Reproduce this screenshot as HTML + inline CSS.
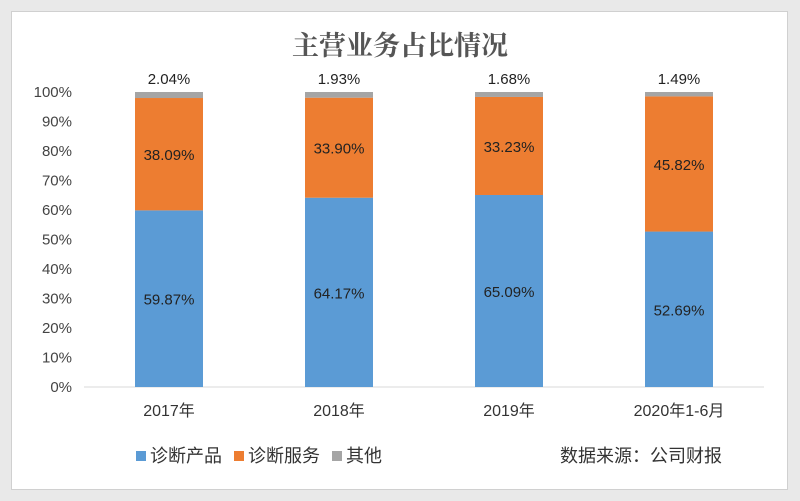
<!DOCTYPE html>
<html><head><meta charset="utf-8"><style>
body{margin:0;background:#e9e9e9;}
#c{position:absolute;left:11px;top:11px;width:775px;height:477px;background:#fff;border:1px solid #d0d0d0;}
svg{position:absolute;left:0;top:0}
text{font-family:"Liberation Sans","Noto Sans CJK SC",sans-serif;}
</style></head><body>
<div id="c"></div>
<svg id="s" width="800" height="501">
<text x="400" y="55" text-anchor="middle" font-size="27" font-weight="bold" fill="#555" style="font-family:'Noto Serif CJK SC',serif">主营业务占比情况</text>
<g id="leg">
<rect x="136" y="451" width="10" height="10" fill="#5b9bd5"/>
<text x="150" y="462" font-size="18" fill="#333">诊断产品</text>
<rect x="234" y="451" width="10" height="10" fill="#ed7d31"/>
<text x="248" y="462" font-size="18" fill="#333">诊断服务</text>
<rect x="332" y="451" width="10" height="10" fill="#a5a5a5"/>
<text x="346" y="462" font-size="18" fill="#333">其他</text>
</g>
<text x="560" y="462" font-size="18" fill="#333">数据来源：公司财报</text>
</svg>
<script>
const categories=["2017年","2018年","2019年","2020年1-6月"];
const product=[59.87,64.17,65.09,52.69];
const service=[38.09,33.90,33.23,45.82];
const other=[2.04,1.93,1.68,1.49];
const ticks=[0,10,20,30,40,50,60,70,80,90,100];
const s=document.getElementById('s');
const NS='http://www.w3.org/2000/svg';
const y0=387,y1=92,x0=84,band=170,bw=68;
const y=v=>y0-(y0-y1)*v/100;
const xc=i=>x0+band*(i+0.5);
function mk(t,a,txt){const e=document.createElementNS(NS,t);for(const k in a)e.setAttribute(k,a[k]);if(txt!=null)e.textContent=txt;s.appendChild(e);return e;}
ticks.forEach(t=>{const e=mk('text',{x:72,y:y(t)+5,'text-anchor':'end','font-size':15,fill:'#444'},t+'%');

});
const ax=mk('line',{x1:x0,x2:x0+band*4,y1:y0,y2:y0,stroke:'#d9d9d9'});


categories.forEach((c,i)=>{
const cx=xc(i),l=cx-bw/2;
const p=mk('rect',{x:l,y:y(product[i]),width:bw,height:y0-y(product[i]),fill:'#5b9bd5'});


const sv=product[i]+service[i];
const r=mk('rect',{x:l,y:y(sv),width:bw,height:y(product[i])-y(sv),fill:'#ed7d31'});


const tot=sv+other[i];
const o=mk('rect',{x:l,y:y(tot),width:bw,height:y(sv)-y(tot),fill:'#a5a5a5'});


const t1=mk('text',{x:cx,y:y(product[i]/2)+6,'text-anchor':'middle','font-size':15,fill:'#222'},product[i].toFixed(2)+'%');


const t2=mk('text',{x:cx,y:y(product[i]+service[i]/2)+6,'text-anchor':'middle','font-size':15,fill:'#222'},service[i].toFixed(2)+'%');


const t3=mk('text',{x:cx,y:y(tot)-8,'text-anchor':'middle','font-size':15,fill:'#222'},other[i].toFixed(2)+'%');


const xl=mk('text',{x:cx,y:416,'text-anchor':'middle','font-size':16,fill:'#333'},c);


});
</script>
</body></html>
